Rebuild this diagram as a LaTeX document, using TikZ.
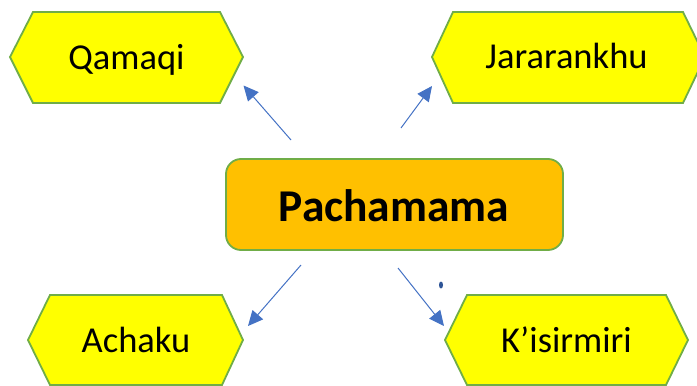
\documentclass[tikz,border=0pt]{standalone}
\usepackage{fontspec}
\setmainfont{Carlito}
\usetikzlibrary{arrows.meta}
\definecolor{hexfill}{HTML}{FFFF00}
\definecolor{boxfill}{HTML}{FFC000}
\definecolor{edgegreen}{HTML}{70AD47}
\definecolor{arrowblue}{HTML}{4472C4}
\definecolor{dotblue}{HTML}{2F5597}
\tikzset{
  hexshape/.style={draw=edgegreen, fill=hexfill, line width=1.8pt, line join=miter},
  hextext/.style={inner sep=0pt, anchor=base, font=\fontsize{36.5}{44}\selectfont},
  centerbox/.style={draw=edgegreen, fill=boxfill, line width=1.8pt, rounded corners=15pt,
    minimum width=337pt, minimum height=91pt, inner sep=0pt},
  centertext/.style={inner sep=0pt, anchor=base, font=\fontsize{45.5}{54}\selectfont\bfseries},
  link/.style={draw=arrowblue, line width=1pt, -{Triangle[length=15pt,width=14pt]}},
}
\begin{document}
\begin{tikzpicture}[x=1pt,y=-1pt]
\useasboundingbox (0,0) rectangle (697,386);
% hexagons
\draw[hexshape] (10,57) -- (33,12) -- (220,12) -- (243,57) -- (220,103) -- (33,103) -- cycle;
\draw[hexshape] (432,57) -- (453,12) -- (683,12) -- (705,57) -- (683,103) -- (453,103) -- cycle;
\draw[hexshape] (28,340) -- (50,295) -- (222,295) -- (243,340) -- (222,385) -- (50,385) -- cycle;
\draw[hexshape] (445,340) -- (467,295) -- (666,295) -- (688,340) -- (666,385) -- (467,385) -- cycle;
\node[hextext] (qamaqi) at (126.5,69) {Qamaqi};
\node[hextext] (jarar) at (566.5,68.5) {Jararankhu};
\node[hextext] (achaku) at (136,352) {Achaku};
\node[hextext] (kisir) at (566.5,352) {K’isirmiri};
% center
\node[centerbox] (pacha) at (394.5,204.5) {};
\node[centertext] (pachatext) at (394,221.5) {Pachamama};
% arrow ends
\coordinate (t1) at (291,140); \coordinate (h1) at (243.5,85.5);
\coordinate (t2) at (401,128); \coordinate (h2) at (432,86);
\coordinate (t3) at (301,265); \coordinate (h3) at (248,326);
\coordinate (t4) at (398,268); \coordinate (h4) at (444,326);
\draw[link] (t1) -- (h1);
\draw[link] (t2) -- (h2);
\draw[link] (t3) -- (h3);
\draw[link] (t4) -- (h4);
% stray dot
\fill[dotblue] (441,285) ellipse [x radius=2pt, y radius=3.5pt];
\end{tikzpicture}
\end{document}
